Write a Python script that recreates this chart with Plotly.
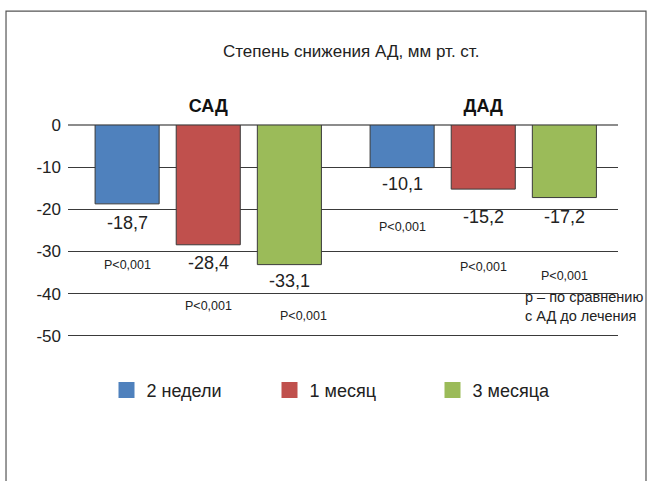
import plotly.graph_objects as go

# ---- data ----
groups = ["САД", "ДАД"]
series_names = ["2 недели", "1 месяц", "3 месяца"]
values_2w = [-18.7, -10.1]
values_1m = [-28.4, -15.2]
values_3m = [-33.1, -17.2]
p_labels_2w = ["P<0,001", "P<0,001"]
p_labels_1m = ["P<0,001", "P<0,001"]
p_labels_3m = ["P<0,001", "P<0,001"]
y_ticks = [0, -10, -20, -30, -40, -50]
y_tick_labels = ["0", "-10", "-20", "-30", "-40", "-50"]
title_text = "Степень снижения АД, мм рт. ст."
note_text = "p – по сравнению<br>с АД до лечения"

# ---- label placement (layout, data units) ----
value_label_y = [[-23.2, -14.0], [-32.6, -21.7], [-37.1, -21.7]]
p_label_y = [[-33.1, -24.3], [-43.0, -33.6], [-45.4, -35.7]]
p_label_dx = [[0.0, 0.0], [0.0, 0.0], [0.05, 0.0]]

colors = ["#4F81BD", "#C0504D", "#9BBB59"]
FONT = "Liberation Sans, Arial, sans-serif"
bargap = 0.115
slot = (1 - bargap) / 3

all_values = [values_2w, values_1m, values_3m]
all_p = [p_labels_2w, p_labels_1m, p_labels_3m]

fig = go.Figure()
for i, (name, vals) in enumerate(zip(series_names, all_values)):
    fig.add_trace(go.Bar(
        x=groups, y=vals, name=name, showlegend=False,
        marker=dict(color=colors[i], line=dict(color="#3a3a3a", width=1)),
        hoverinfo="y",
    ))
# legend entries (square markers)
for i, name in enumerate(series_names):
    fig.add_trace(go.Scatter(
        x=[None], y=[None], mode="markers", name=name,
        marker=dict(symbol="square", size=16, color=colors[i]),
    ))

annotations = []
for i in range(3):
    for g in range(len(groups)):
        xc = g + (i - 1) * slot
        v = all_values[i][g]
        annotations.append(dict(
            x=xc, y=value_label_y[i][g], xref="x", yref="y",
            text=f"{v:.1f}".replace(".", ","), showarrow=False,
            font=dict(family=FONT, size=18, color="#222"),
        ))
        annotations.append(dict(
            x=xc + p_label_dx[i][g], y=p_label_y[i][g], xref="x", yref="y",
            text=all_p[i][g], showarrow=False,
            font=dict(family=FONT, size=12.5, color="#222"),
        ))

# plot area: top 125 px, bottom 338 px (213 px tall)
annotations.append(dict(
    x=0.516, y=1.345, xref="paper", yref="paper", text=title_text,
    showarrow=False, yanchor="middle",
    font=dict(family=FONT, size=17, color="#222"),
))
annotations.append(dict(
    x=0.828, y=0.15, xref="paper", yref="paper", text=note_text,
    showarrow=False, xanchor="left", yanchor="middle", align="left",
    font=dict(family=FONT, size=14.5, color="#222"),
))

fig.update_layout(
    width=649, height=481,
    margin=dict(l=68, r=31, t=125, b=143),
    paper_bgcolor="white", plot_bgcolor="white",
    barmode="group", bargap=bargap, bargroupgap=0.21,
    font=dict(family=FONT, color="#222"),
    annotations=annotations,
    xaxis=dict(
        side="top", range=[-0.51, 1.49], showgrid=False, zeroline=False,
        showline=False, ticks="", ticklabelstandoff=8,
        tickfont=dict(family=FONT, size=18, color="#111", weight="bold"),
    ),
    yaxis=dict(
        range=[-50.5, 0], tickvals=y_ticks, ticktext=y_tick_labels,
        showgrid=True, gridcolor="#3a3a3a", gridwidth=1,
        zeroline=True, zerolinecolor="#8c8c8c", zerolinewidth=1.5,
        showline=False, ticks="", ticklabelstandoff=6,
        tickfont=dict(family=FONT, size=17, color="#222"),
    ),
    legend=dict(
        orientation="h", x=0.07, y=-0.245, xanchor="left", yanchor="middle",
        entrywidth=118, font=dict(family=FONT, size=18, color="#222"),
        bgcolor="rgba(0,0,0,0)",
    ),
    shapes=[dict(
        type="rect", xref="paper", yref="paper",
        x0=-0.1127, x1=1.0509, y0=-0.75, y1=1.535,
        line=dict(color="#555", width=1.2), fillcolor="rgba(0,0,0,0)",
        layer="below",
    )],
)

fig.write_html("out.html")
